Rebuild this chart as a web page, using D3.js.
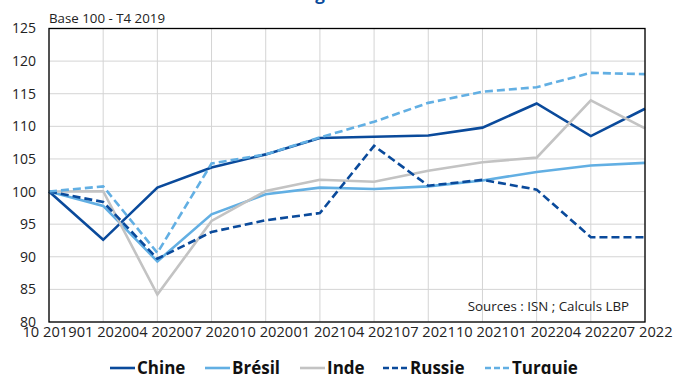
<!DOCTYPE html>
<html><head><meta charset="utf-8">
<script src="https://cdn.jsdelivr.net/npm/d3@7"></script>
<style>body{margin:0;background:#fff;} svg{display:block;font-family:"Open Sans",sans-serif;}</style>
</head><body><svg id="c" width="675" height="374"></svg>
<script>
const categories = ["10 2019","01 2020","04 2020","07 2020","10 2020","01 2021","04 2021","07 2021","10 2021","01 2022","04 2022","07 2022"];
const chine   = [100, 92.6, 100.6, 103.7, 105.7, 108.2, 108.4, 108.6, 109.8, 113.5, 108.5, 112.7];
const bresil  = [100, 97.8, 89.3, 96.5, 99.6, 100.6, 100.4, 100.8, 101.7, 103.0, 104.0, 104.4];
const inde    = [100, 100.05, 84.2, 95.5, 100.1, 101.8, 101.5, 103.2, 104.5, 105.2, 114.0, 109.7];
const russie  = [100, 98.4, 89.7, 93.8, 95.6, 96.7, 107.0, 100.9, 101.8, 100.3, 93.0, 93.0];
const turquie = [100, 100.8, 90.6, 104.3, 105.7, 108.3, 110.7, 113.6, 115.3, 116.0, 118.2, 118.0];
const yTicks = [80,85,90,95,100,105,110,115,120,125];
const seriesNames = ["Chine","Brésil","Inde","Russie","Turquie"];

const series = [
  {name:seriesNames[0], values:chine,   color:"#0a4a9b", dash:null},
  {name:seriesNames[1], values:bresil,  color:"#62afe3", dash:null},
  {name:seriesNames[2], values:inde,    color:"#c3c3c3", dash:null},
  {name:seriesNames[3], values:russie,  color:"#0a4a9b", dash:"8,4"},
  {name:seriesNames[4], values:turquie, color:"#62afe3", dash:"8,4"}
];

const svg = d3.select("#c");
const L=49, R=645, T=28.5, B=322;
const x = d3.scalePoint().domain(categories).range([L,R]);
const y = d3.scaleLinear().domain([80,125]).range([B,T]);

// title (cut off at top, only descenders visible as in the reference)
svg.append("text").attr("x",362).attr("y",-0.5).attr("text-anchor","end")
  .attr("font-size",17).attr("font-weight",700).attr("fill","#0a4a9b")
  .text("Production des émergents");

// gridlines
svg.append("g").selectAll("line").data(yTicks).join("line")
  .attr("x1",L).attr("x2",R).attr("y1",d=>y(d)).attr("y2",d=>y(d))
  .attr("stroke","#d4d4d4").attr("stroke-width",1);
svg.append("g").selectAll("line").data(categories).join("line")
  .attr("x1",d=>x(d)).attr("x2",d=>x(d)).attr("y1",T).attr("y2",B)
  .attr("stroke","#d4d4d4").attr("stroke-width",1);

// y axis
const ya = svg.append("g").attr("transform",`translate(${L},0)`)
  .call(d3.axisLeft(y).tickValues(yTicks).tickSize(0).tickPadding(13));
ya.select(".domain").remove();
ya.selectAll("text").attr("font-size",14).attr("fill","#222").attr("font-family","Open Sans");

// x axis
const xa = svg.append("g").attr("transform",`translate(0,${B})`)
  .call(d3.axisBottom(x).tickSize(0).tickPadding(5));
xa.select(".domain").remove();
xa.selectAll("text").attr("font-size",14).attr("fill","#222").attr("font-family","Open Sans")
  .attr("textLength",54).attr("lengthAdjust","spacingAndGlyphs");

// lines
const line = d3.line().x((d,i)=>x(categories[i])).y(d=>y(d));
svg.append("g").selectAll("path").data(series).join("path")
  .attr("d",d=>line(d.values)).attr("fill","none")
  .attr("stroke",d=>d.color).attr("stroke-width",2.6)
  .attr("stroke-dasharray",d=>d.dash);

// frame
svg.append("rect").attr("x",L).attr("y",T).attr("width",R-L).attr("height",B-T)
  .attr("fill","none").attr("stroke","#000").attr("stroke-width",1.3);

// annotations
svg.append("text").attr("x",L).attr("y",23).attr("font-size",13.3).attr("fill","#222")
  .text("Base 100 - T4 2019");
svg.append("text").attr("x",629).attr("y",311).attr("text-anchor","end").attr("font-size",13.3).attr("fill","#222")
  .text("Sources : ISN ; Calculs LBP");

// legend
const legX = [110, 205, 300, 383, 485];
const lg = svg.append("g").selectAll("g").data(series).join("g")
  .attr("transform",(d,i)=>`translate(${legX[i]},368)`);
lg.append("line").attr("x1",0).attr("x2",25).attr("y1",0).attr("y2",0)
  .attr("stroke",d=>d.color).attr("stroke-width",2.6)
  .attr("stroke-dasharray",d=>d.dash?"6,3":null);
lg.append("text").attr("x",27).attr("y",6).attr("font-size",17).attr("font-weight",700)
  .attr("fill","#111").text(d=>d.name);
</script></body></html>
